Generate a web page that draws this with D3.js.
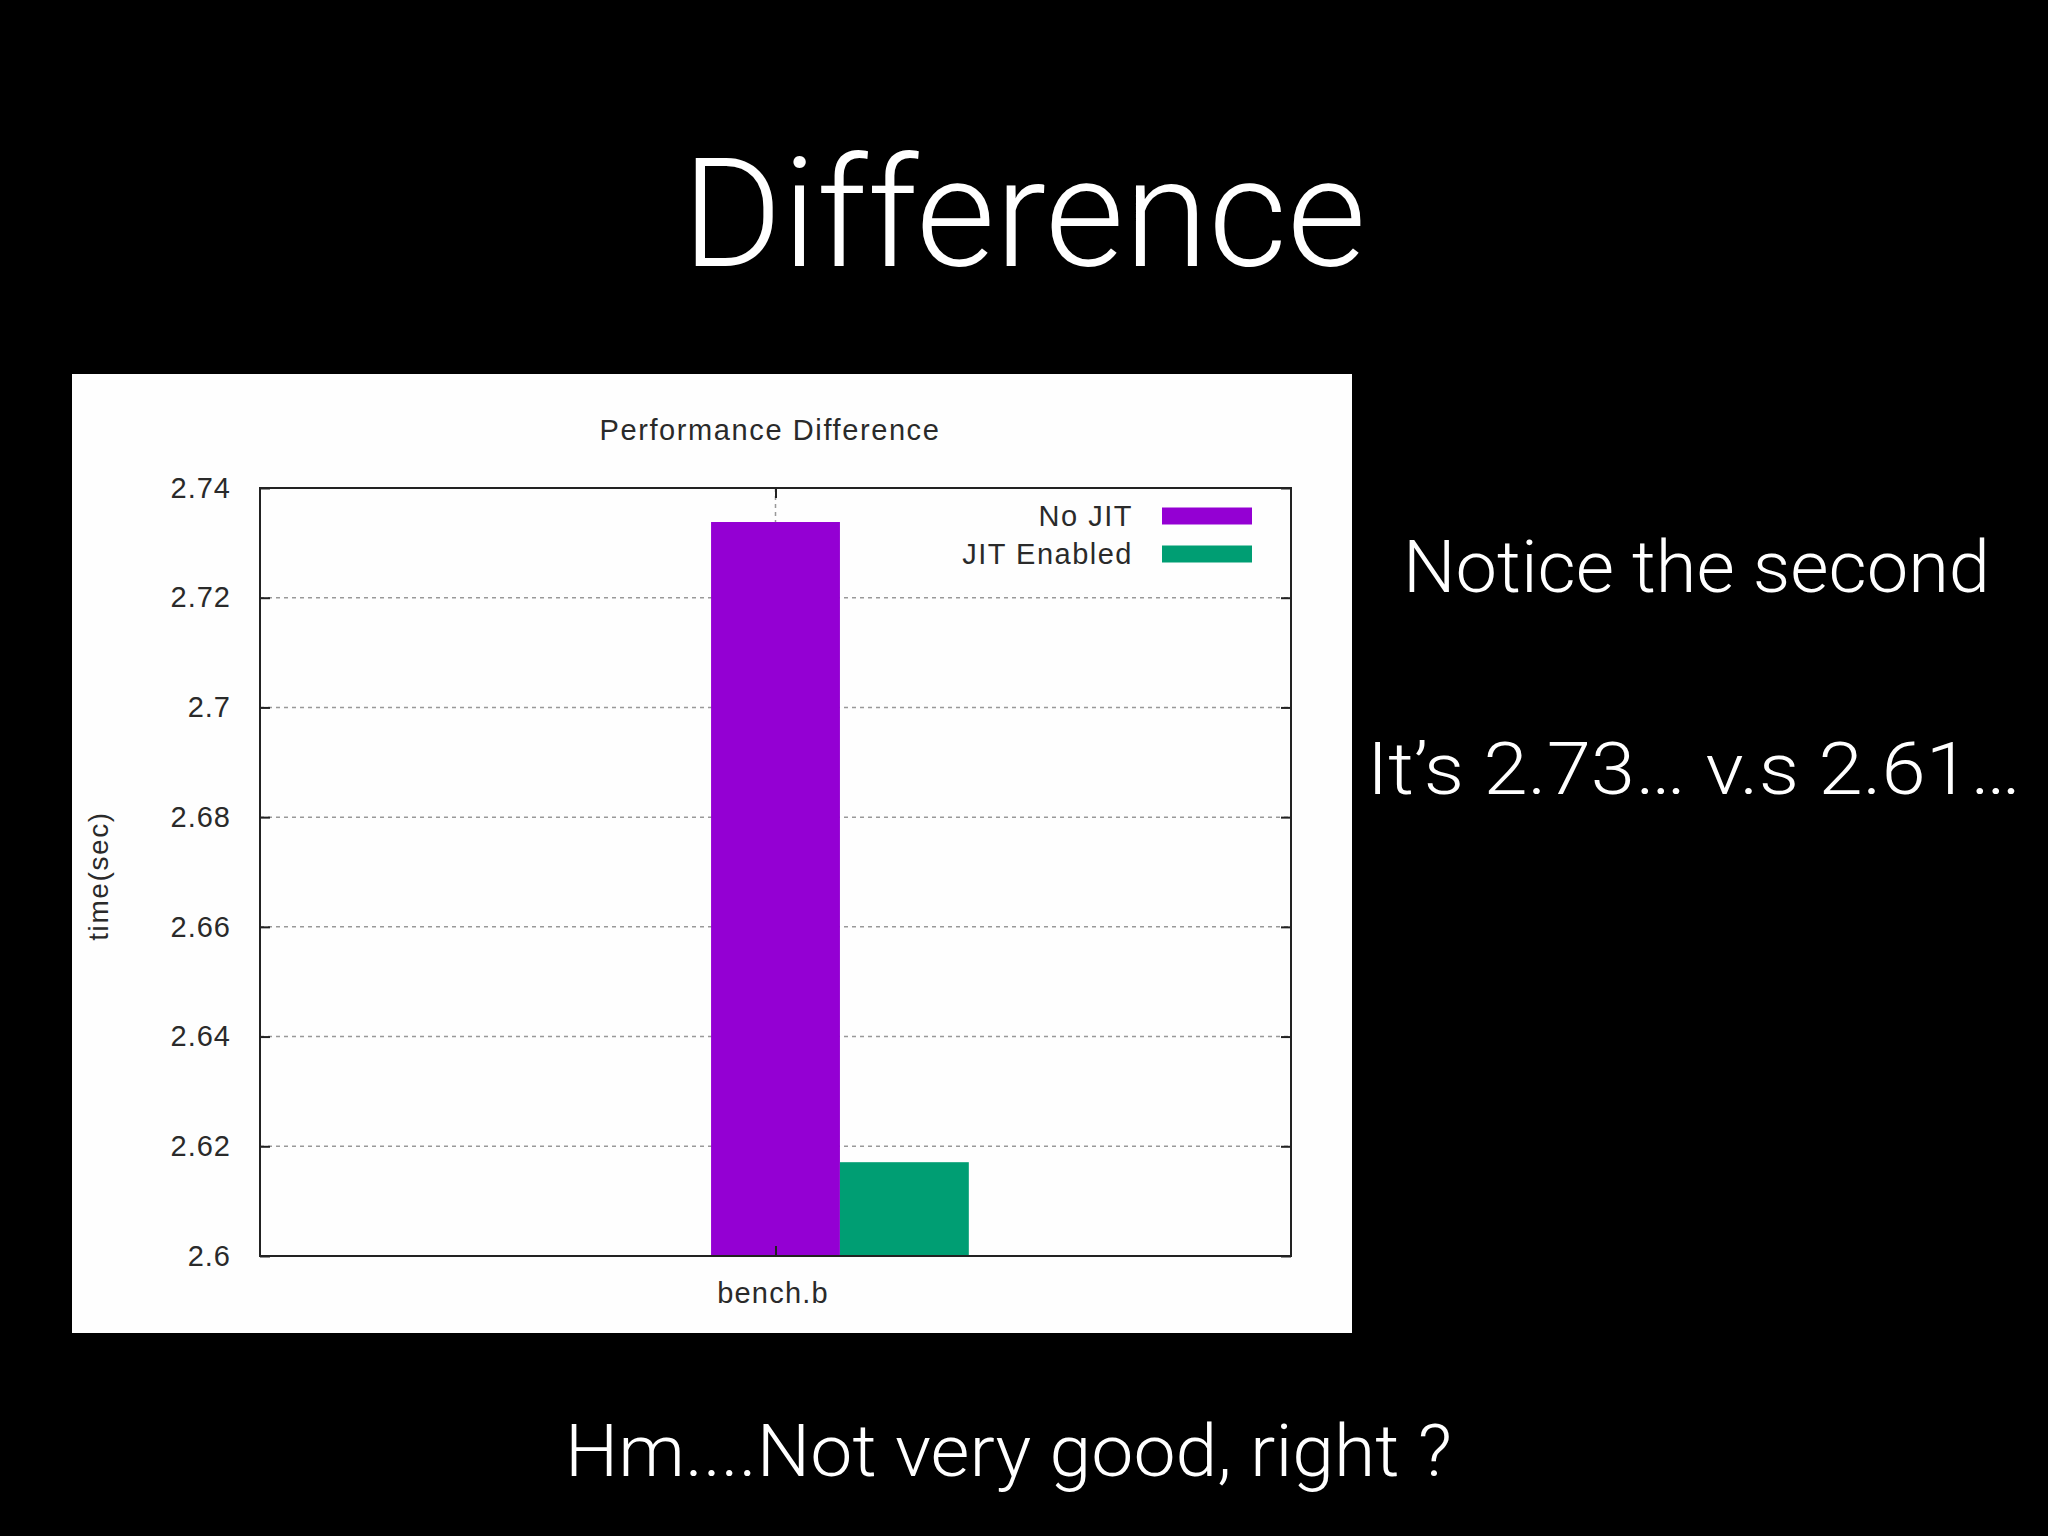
<!DOCTYPE html>
<html>
<head>
<meta charset="utf-8">
<script src="https://cdn.jsdelivr.net/npm/d3@7"></script>
<style>
  html, body { margin: 0; padding: 0; background: #000; }
  svg { display: block; }
</style>
</head>
<body>
<svg id="chart" width="2048" height="1536"></svg>
<script>
// ---- data ----
const categories = ["bench.b"];
const seriesNames = ["No JIT", "JIT Enabled"];
const noJitValues = [2.7338];
const jitValues = [2.6171];
const yTickValues = [2.6, 2.62, 2.64, 2.66, 2.68, 2.7, 2.72, 2.74];
const yTickLabels = ["2.6", "2.62", "2.64", "2.66", "2.68", "2.7", "2.72", "2.74"];
const seriesColors = ["#9400d3", "#009e73"];

const chartTitle = "Performance Difference";
const yAxisLabel = "time(sec)";
const slideTitle = "Difference";
const sideLine1 = "Notice the second";
const sideLine2 = "It\u2019s 2.73\u2026 v.s 2.61\u2026";
const bottomLine = "Hm....Not very good, right ?";

// ---- layout ----
const svg = d3.select("#chart");
svg.append("rect").attr("x", 0).attr("y", 0).attr("width", 2048).attr("height", 1536).attr("fill", "#000");

const bigFont = "Roboto, 'Liberation Sans', Arial, sans-serif";
const chartFont = "'Liberation Sans', Arial, sans-serif";

function bigText(str, xPos, yPos, size, len) {
  svg.append("text").text(str)
    .attr("x", xPos).attr("y", yPos)
    .attr("font-family", bigFont).attr("font-weight", 300)
    .attr("font-size", size).attr("fill", "#fff")
    .attr("textLength", len).attr("lengthAdjust", "spacingAndGlyphs");
}

bigText(slideTitle, 682, 266, 153, 684);
bigText(sideLine1, 1403, 592, 72, 587);
bigText(sideLine2, 1367, 794, 72, 654);
bigText(bottomLine, 565, 1476, 72, 887);

// white chart panel
svg.append("rect").attr("x", 72).attr("y", 374).attr("width", 1280).attr("height", 959).attr("fill", "#fefefe");

const plotL = 260, plotR = 1291, plotT = 488, plotB = 1256;

const y = d3.scaleLinear().domain([2.6, 2.74]).range([plotB, plotT]);
const x = d3.scaleLinear().domain([-1, 1]).range([plotL, plotR]);
const barW = 0.25;
const seriesOffsets = [0, 0.25];

const g = svg.append("g");

// horizontal grid lines
g.selectAll("line.hgrid")
  .data(yTickValues.filter(v => v > 2.6 && v < 2.74))
  .join("line").attr("class", "hgrid")
  .attr("x1", plotL).attr("x2", plotR)
  .attr("y1", d => y(d)).attr("y2", d => y(d))
  .attr("stroke", "#999").attr("stroke-width", 1.5).attr("stroke-dasharray", "4,4");

// vertical grid line at category tick
g.selectAll("line.vgrid")
  .data(categories)
  .join("line").attr("class", "vgrid")
  .attr("x1", (d, i) => x(i)).attr("x2", (d, i) => x(i))
  .attr("y1", plotT).attr("y2", plotB)
  .attr("stroke", "#999").attr("stroke-width", 1.5).attr("stroke-dasharray", "4,4");

// bars
const seriesValues = [noJitValues, jitValues];
seriesValues.forEach((vals, s) => {
  g.selectAll("rect.bar" + s)
    .data(vals)
    .join("rect").attr("class", "bar" + s)
    .attr("x", (d, i) => x(i + seriesOffsets[s] - barW / 2))
    .attr("width", (d, i) => x(i + seriesOffsets[s] + barW / 2) - x(i + seriesOffsets[s] - barW / 2))
    .attr("y", d => y(d))
    .attr("height", d => y(2.6) - y(d))
    .attr("fill", seriesColors[s]);
});

// y axis (left, ticks inward)
const yAxis = d3.axisLeft(y)
  .tickValues(yTickValues)
  .tickFormat((d, i) => yTickLabels[i])
  .tickSizeInner(-10).tickSizeOuter(0).tickPadding(29);
const ya = svg.append("g").attr("transform", `translate(${plotL},0)`).call(yAxis);
ya.select(".domain").remove();
ya.selectAll("line").attr("stroke", "#222").attr("stroke-width", 2);
ya.selectAll("text").attr("font-family", chartFont).attr("font-size", 29).attr("fill", "#2a2a2a")
  .attr("letter-spacing", 1);

// mirrored right ticks
const yAxisR = d3.axisRight(y).tickValues(yTickValues).tickFormat("").tickSizeInner(-10).tickSizeOuter(0);
const yr = svg.append("g").attr("transform", `translate(${plotR},0)`).call(yAxisR);
yr.select(".domain").remove();
yr.selectAll("line").attr("stroke", "#222").attr("stroke-width", 2);

// x axis
const xAxis = d3.axisBottom(x)
  .tickValues(categories.map((c, i) => i))
  .tickFormat(i => categories[i])
  .tickSizeInner(-10).tickSizeOuter(0).tickPadding(26);
const xa = svg.append("g").attr("transform", `translate(0,${plotB})`).call(xAxis);
xa.select(".domain").remove();
xa.selectAll("line").attr("stroke", "#222").attr("stroke-width", 2);
xa.selectAll("text").attr("font-family", chartFont).attr("font-size", 29).attr("fill", "#2a2a2a")
  .attr("dy", "0.71em").attr("dx", -3).attr("letter-spacing", 1.2);

const xAxisT = d3.axisTop(x).tickValues(categories.map((c, i) => i)).tickFormat("").tickSizeInner(-10).tickSizeOuter(0);
const xt = svg.append("g").attr("transform", `translate(0,${plotT})`).call(xAxisT);
xt.select(".domain").remove();
xt.selectAll("line").attr("stroke", "#222").attr("stroke-width", 2);

// frame
svg.append("rect").attr("x", plotL).attr("y", plotT).attr("width", plotR - plotL).attr("height", plotB - plotT)
  .attr("fill", "none").attr("stroke", "#222").attr("stroke-width", 2);

// chart title
svg.append("text").text(chartTitle)
  .attr("x", 770).attr("y", 440).attr("text-anchor", "middle")
  .attr("font-family", chartFont).attr("font-size", 29).attr("fill", "#2a2a2a")
  .attr("letter-spacing", 1.6);

// y label
svg.append("text").text(yAxisLabel)
  .attr("transform", "translate(108,876) rotate(-90)")
  .attr("text-anchor", "middle")
  .attr("font-family", chartFont).attr("font-size", 28).attr("fill", "#2a2a2a")
  .attr("letter-spacing", 1.6);

// legend
const legend = svg.append("g");
const legendY = [516, 554];
seriesNames.forEach((name, i) => {
  legend.append("text").text(name)
    .attr("x", 1133).attr("y", legendY[i]).attr("dy", "0.35em")
    .attr("text-anchor", "end")
    .attr("font-family", chartFont).attr("font-size", 29).attr("fill", "#2a2a2a")
    .attr("letter-spacing", 1.5);
  legend.append("rect")
    .attr("x", 1162).attr("y", legendY[i] - 8.5)
    .attr("width", 90).attr("height", 17)
    .attr("fill", seriesColors[i]);
});
</script>
</body>
</html>
